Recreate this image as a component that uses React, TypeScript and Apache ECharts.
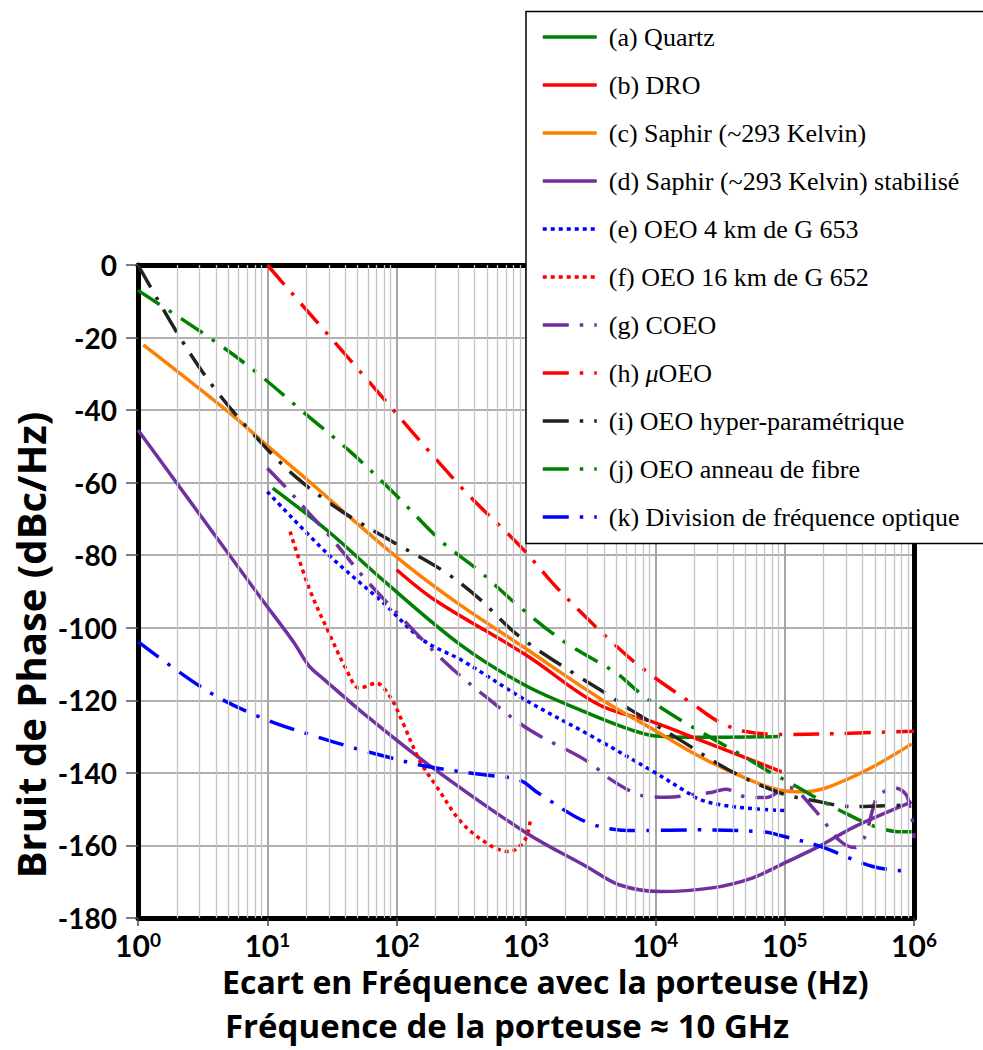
import React, { useEffect, useRef } from 'react';
import * as echarts from 'echarts';

// ---------------- DATA ----------------
const xExponents = [0, 1, 2, 3, 4, 5, 6];
const yTickValues = [0, -20, -40, -60, -80, -100, -120, -140, -160, -180];

const seriesNames = [
  '(a) Quartz',
  '(b) DRO',
  '(c) Saphir (~293 Kelvin)',
  '(d) Saphir (~293 Kelvin) stabilisé',
  '(e) OEO 4 km de G 653',
  '(f) OEO 16 km de G 652',
  '(g) COEO',
  '(h) μOEO',
  '(i) OEO hyper-paramétrique',
  '(j) OEO anneau de fibre',
  '(k) Division de fréquence optique',
];

const quartz = [[11, -61.5], [30, -73.6], [78, -86.8], [320, -105], [1000, -116], [3000, -123.5], [6600, -128.2], [10000, -129.8], [28000, -130.2], [92000, -130]];
const dro = [[100, -84], [200, -92.5], [1000, -107.5], [3700, -121.3], [10000, -126.2], [22000, -130.9], [95000, -139.7]];
const saphir = [[1.1, -22], [5, -40.5], [10.5, -50.5], [20, -59], [100, -80.5], [290, -93], [900, -104.7], [3700, -119.4], [9800, -128.2], [22000, -135.5], [54000, -142], [91000, -144.7], [140000, -145.2], [340000, -141], [960000, -132]];
const saphirStab = [[1, -45.5], [9, -92], [16, -104], [21, -110.5], [27, -114], [55, -123.5], [180, -138], [1000, -156.5], [3000, -166], [5300, -170.9], [11000, -172.7], [27500, -171.7], [56000, -169], [100000, -164.8], [186000, -160.2], [340000, -155], [960000, -148]];
const oeo4km = [[10, -62.5], [30, -80], [78, -93], [160, -103.4], [320, -109], [1000, -120], [3000, -129.3], [9500, -139.5], [17000, -145], [22000, -147.3], [32000, -148.8], [55000, -149.8], [100000, -150.4]];
const oeo16km = [[15, -73.5], [21, -89], [30, -101.5], [41, -111.6], [51, -116.6], [60, -116], [69, -115.2], [89, -119], [112, -126.3], [150, -136.5], [204, -143.8], [320, -153.8], [525, -159.9], [740, -161.7], [980, -158.5], [1080, -153]];
const coeo = [[10, -56], [14.5, -62], [21, -68.4], [29, -73.9], [41, -80.4], [56, -86.2], [83, -92.8], [234, -109.3], [525, -119.9], [1070, -128.2], [2950, -136.7], [4600, -142], [7200, -145.8], [9500, -146.6], [12300, -146.7], [21000, -145.8], [27000, -145.4], [35000, -144.5], [50000, -146.6], [72000, -146.8], [105000, -144.1], [120000, -144.5], [166000, -149.7], [195000, -152.7], [263000, -158.5], [347000, -160.6], [417000, -157.5], [479000, -150.2], [525000, -146.6], [708000, -144.1], [870000, -146], [933000, -150], [977000, -153.7], [1000000, -158]];
const muOeo = [[10, 0], [55, -30.3], [320, -61.5], [930, -78], [1800, -89.6], [4700, -104.2], [8500, -112], [20000, -121.3], [31000, -125.9], [50000, -128.6], [100000, -129.4], [190000, -129.3], [1000000, -128.5]];
const hyper = [[1, 0], [2.2, -21], [4, -34.5], [8.1, -47.3], [16.6, -58.4], [38, -68], [93, -76.3], [224, -84.1], [417, -91.4], [890, -102.4], [2570, -113.5], [4100, -118], [6500, -122.7], [15500, -130.9], [37000, -139.2], [93000, -145.6], [166000, -147.6], [340000, -149.3], [930000, -148.8]];
const fibre = [[1, -7], [3.8, -20.7], [8.7, -30.3], [19.5, -40.9], [44, -51.5], [93, -62.5], [224, -76.3], [427, -84.1], [890, -94.2], [2040, -104.2], [5000, -112.5], [7600, -118], [11700, -122.6], [18200, -126.8], [28800, -130.9], [46000, -135], [72000, -139.2], [89000, -141], [112000, -142.9], [178000, -147], [280000, -150.7], [430000, -153.9], [575000, -155.5], [750000, -156.2], [1000000, -156.2]];
const division = [[1, -103.8], [3.5, -117.6], [9.3, -125], [24, -130], [66, -134.6], [178, -138.3], [490, -140.6], [890, -142], [1260, -145.7], [3100, -153.9], [7100, -155.9], [23000, -155.7], [71000, -156.3], [91000, -157.2], [186000, -160.2], [480000, -165.8], [960000, -167.2]];

const minorGridValues: number[] = [];
for (let d = 0; d < 6; d++) for (let k = 2; k <= 9; k++) minorGridValues.push(k * Math.pow(10, d));

// ---------------- STYLES ----------------
const GREEN = '#008000';
const RED = '#ff0000';
const ORANGE = '#ff7f00';
const PURPLE = '#7030a0';
const BLUE = '#0000ff';
const BLACK = '#222222';
const DASHDOT = [26, 11, 3.5, 11];
const DOT = [4, 4];

const seriesDefs = [
  { data: quartz, color: GREEN, type: 'solid' as any },
  { data: dro, color: RED, type: 'solid' as any },
  { data: saphir, color: ORANGE, type: 'solid' as any },
  { data: saphirStab, color: PURPLE, type: 'solid' as any },
  { data: oeo4km, color: BLUE, type: DOT },
  { data: oeo16km, color: RED, type: DOT },
  { data: coeo, color: PURPLE, type: DASHDOT },
  { data: muOeo, color: RED, type: DASHDOT },
  { data: hyper, color: BLACK, type: DASHDOT },
  { data: fibre, color: GREEN, type: DASHDOT },
  { data: division, color: BLUE, type: DASHDOT },
];

const LABEL_FONT = 'Lato';
const TITLE_FONT = 'Open Sans';

export default function App() {
  const ref = useRef<HTMLDivElement>(null);
  useEffect(() => {
    if (!ref.current) return;
    const chart = echarts.init(ref.current, undefined, { renderer: 'svg' });

    const lineSeries = seriesDefs.map((s, i) => ({
      name: seriesNames[i],
      type: 'line',
      data: s.data,
      symbol: 'none',
      smooth: 0.35,
      z: 3,
      color: s.color,
      lineStyle: { color: s.color, width: 3.5, type: s.type, cap: 'butt' },
      itemStyle: { color: s.color },
    }));

    const option: any = {
      animation: false,
      backgroundColor: '#ffffff',
      grid: { left: 138, right: 69, top: 265, bottom: 132 },
      title: [
        {
          text: 'Ecart en Fréquence avec la porteuse (Hz)',
          left: 222,
          top: 965,
          padding: 0,
          textStyle: { fontFamily: TITLE_FONT, fontWeight: 'bold', fontSize: 32, color: '#000' },
        },
        {
          text: 'Fréquence de la porteuse ≈ 10 GHz',
          left: 225,
          top: 1009,
          padding: 0,
          textStyle: { fontFamily: TITLE_FONT, fontWeight: 'bold', fontSize: 33, color: '#000' },
        },
      ],
      legend: {
        data: seriesNames,
        orient: 'vertical',
        left: 541,
        top: 24,
        padding: 0,
        itemWidth: 54,
        itemHeight: 14,
        itemGap: 22,
        z: 60,
        itemStyle: { color: 'transparent', borderColor: 'transparent', borderWidth: 0, opacity: 0 },
        lineStyle: { width: 3.5 },
        textStyle: {
          fontFamily: 'Liberation Serif',
          fontSize: 26,
          color: '#000',
          padding: [0, 0, 0, 7],
          rich: { i: { fontFamily: 'Liberation Serif', fontSize: 26, fontStyle: 'italic', color: '#000' } },
        },
        formatter: (name: string) => name.replace('μ', '{i|μ}'),
      },
      graphic: [
        {
          type: 'rect',
          z: 50,
          shape: { x: 526, y: 11.5, width: 470, height: 532 },
          style: { fill: '#ffffff', stroke: '#000000', lineWidth: 1.5 },
        },
        {
          type: 'text',
          z: 50,
          x: 30,
          y: 645,
          rotation: Math.PI / 2,
          style: {
            text: 'Bruit de Phase (dBc/Hz)',
            fontFamily: TITLE_FONT,
            fontWeight: 'bold',
            fontSize: 40,
            fill: '#000',
            textAlign: 'center',
            textVerticalAlign: 'middle',
          },
        },
      ],
      xAxis: [
        {
          type: 'log',
          logBase: 10,
          min: Math.pow(10, xExponents[0]),
          max: Math.pow(10, xExponents[xExponents.length - 1]),
          splitNumber: 6,
          axisLine: { show: true, onZero: false, lineStyle: { color: '#000', width: 5 } },
          axisTick: { show: true, length: 8, lineStyle: { color: '#444', width: 1.5 } },
          splitLine: { show: true, lineStyle: { color: '#a6a6a6', width: 2 } },
          axisLabel: {
            showMinLabel: true,
            showMaxLabel: true,
            margin: 12,
            formatter: (v: number) => `{b|10}{s|${Math.round(Math.log10(v))}}`,
            rich: {
              b: { fontFamily: LABEL_FONT, fontWeight: 'bold', fontSize: 30, color: '#000', verticalAlign: 'bottom', lineHeight: 30 },
              s: { fontFamily: LABEL_FONT, fontWeight: 'bold', fontSize: 19, color: '#000', verticalAlign: 'top', lineHeight: 30, padding: [0, 0, 12, 0] },
            },
          },
        },
        {
          type: 'log',
          logBase: 10,
          position: 'top',
          min: Math.pow(10, xExponents[0]),
          max: Math.pow(10, xExponents[xExponents.length - 1]),
          axisLine: { show: true, onZero: false, lineStyle: { color: '#000', width: 5 } },
          axisTick: { show: false },
          axisLabel: { show: false },
          splitLine: { show: false },
        },
      ],
      yAxis: [
        {
          type: 'value',
          min: yTickValues[yTickValues.length - 1],
          max: yTickValues[0],
          interval: 20,
          axisLine: { show: true, onZero: false, lineStyle: { color: '#000', width: 5 } },
          axisTick: { show: true, length: 12, lineStyle: { color: '#555', width: 1.5 } },
          splitLine: { show: true, lineStyle: { color: '#b0b0b0', width: 2 } },
          axisLabel: { fontFamily: LABEL_FONT, fontWeight: 'bold', fontSize: 28, color: '#000', margin: 21 },
        },
        {
          type: 'value',
          position: 'right',
          min: yTickValues[yTickValues.length - 1],
          max: yTickValues[0],
          interval: 20,
          axisLine: { show: true, onZero: false, lineStyle: { color: '#000', width: 5 } },
          axisTick: { show: false },
          axisLabel: { show: false },
          splitLine: { show: false },
        },
      ],
      series: [
        {
          name: '_minorGrid',
          type: 'line',
          data: [],
          z: 1,
          silent: true,
          markLine: {
            silent: true,
            symbol: ['none', 'none'],
            label: { show: false },
            lineStyle: { color: '#c4c4c4', width: 1.3, type: 'solid' },
            data: minorGridValues.map((v) => ({ xAxis: v })),
          },
        },
        ...lineSeries,
      ],
    };
    chart.setOption(option);
    return () => chart.dispose();
  }, []);

  return (
    <div
      ref={ref}
      style={{ position: 'fixed', left: 0, top: 0, width: 983, height: 1050, background: '#fff' }}
    />
  );
}
